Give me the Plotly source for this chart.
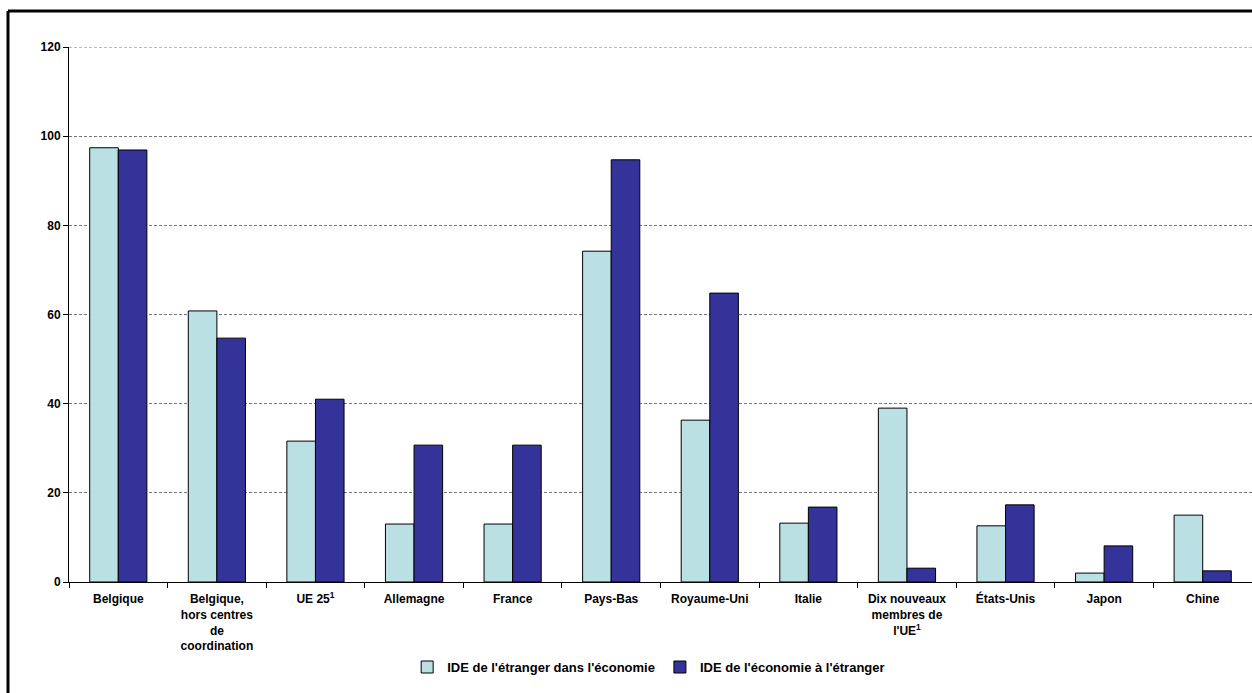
import plotly.graph_objects as go

categories = ["Belgique", "Belgique,<br>hors centres<br>de<br>coordination", "UE 25<sup>1</sup>",
              "Allemagne", "France", "Pays-Bas", "Royaume-Uni", "Italie",
              "Dix nouveaux<br>membres de<br>l'UE<sup>1</sup>", "États-Unis", "Japon", "Chine"]
inward = [97.4, 60.8, 31.6, 13.0, 13.0, 74.2, 36.3, 13.2, 39.0, 12.6, 2.0, 15.0]
outward = [96.9, 54.7, 41.0, 30.7, 30.7, 94.7, 64.8, 16.8, 3.1, 17.3, 8.1, 2.5]
series_names = ["IDE de l'étranger dans l'économie", "IDE de l'économie à l'étranger"]
y_ticks = [0, 20, 40, 60, 80, 100, 120]

W, H = 1252, 693
L, R, T, B = 69, 0, 47, 111
pw, ph = W - L - R, H - T - B
FAM = "Liberation Sans, Arial, sans-serif"

fig = go.Figure()
fig.add_trace(go.Bar(x=categories, y=inward, name=series_names[0],
                     marker=dict(color="#BAE0E3", line=dict(color="#000000", width=1))))
fig.add_trace(go.Bar(x=categories, y=outward, name=series_names[1],
                     marker=dict(color="#333399", line=dict(color="#000000", width=1))))

fig.update_layout(
    width=W, height=H,
    margin=dict(l=L, r=R, t=T, b=B),
    paper_bgcolor="white", plot_bgcolor="white",
    barmode="group", bargap=0.42, bargroupgap=0,
    font=dict(family=FAM, size=12, color="#000000"),
    showlegend=True,
    legend=dict(orientation="h", x=0.49, xanchor="center", y=-0.159, yanchor="middle",
                font=dict(family=FAM, size=13, color="#000000", weight="bold"),
                itemwidth=30),
    xaxis=dict(type="category", showline=True, linecolor="#000000", linewidth=1,
               ticks="outside", tickson="boundaries", ticklen=5, tickcolor="#000000",
               showgrid=False, tickangle=0, ticklabelstandoff=6,
               tickfont=dict(family=FAM, size=12, color="#000000", weight="bold")),
    yaxis=dict(range=[0, 120], tickvals=y_ticks, showline=True, linecolor="#000000", linewidth=1,
               ticks="outside", ticklen=5, tickcolor="#000000",
               showgrid=True, gridcolor="#777777", griddash="3px,2px", gridwidth=1,
               zeroline=False,
               tickfont=dict(family=FAM, size=12, color="#000000", weight="bold")),
)

# top gridline at the range maximum
fig.add_shape(type="line", xref="paper", yref="y", x0=0, x1=1, y0=120, y1=120,
              line=dict(color="#777777", width=1, dash="3px,2px"), layer="below")

# outer border (left and top edges visible in the reference crop)
fig.add_shape(type="line", xref="paper", yref="paper",
              x0=(8 - L) / pw, x1=(8 - L) / pw, y0=-(B + 5) / ph, y1=(ph + T - 11) / ph,
              line=dict(color="#000000", width=3))
fig.add_shape(type="line", xref="paper", yref="paper",
              x0=(8 - L) / pw, x1=(W + 5 - L) / pw, y0=(ph + T - 11) / ph, y1=(ph + T - 11) / ph,
              line=dict(color="#000000", width=3))

fig.write_html("out.html", config={"displayModeBar": False},
               post_script="document.body.style.margin='0';document.body.style.overflow='hidden';")
